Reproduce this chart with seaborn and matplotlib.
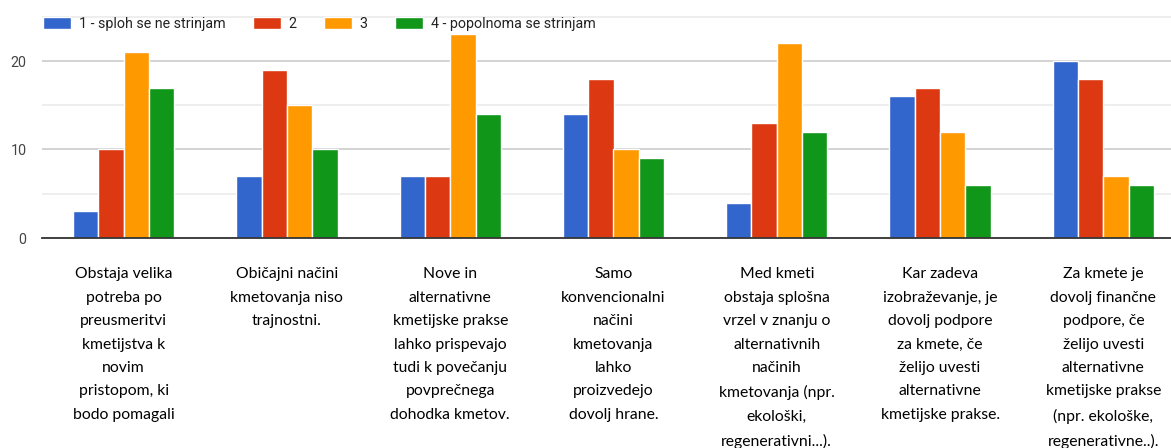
import matplotlib
matplotlib.use("Agg")
import matplotlib.pyplot as plt
import seaborn as sns
import pandas as pd
from matplotlib.ticker import MultipleLocator

categories = [
    "Obstaja velika\npotreba po\npreusmeritvi\nkmetijstva k\nnovim\npristopom, ki\nbodo pomagali",
    "Običajni načini\nkmetovanja niso\ntrajnostni.",
    "Nove in\nalternativne\nkmetijske prakse\nlahko prispevajo\ntudi k povečanju\npovprečnega\ndohodka kmetov.",
    "Samo\nkonvencionalni\nnačini\nkmetovanja\nlahko\nproizvedejo\ndovolj hrane.",
    "Med kmeti\nobstaja splošna\nvrzel v znanju o\nalternativnih\nnačinih\nkmetovanja (npr.\nekološki,\nregenerativni...).",
    "Kar zadeva\nizobraževanje, je\ndovolj podpore\nza kmete, če\nželijo uvesti\nalternativne\nkmetijske prakse.",
    "Za kmete je\ndovolj finančne\npodpore, če\nželijo uvesti\nalternativne\nkmetijske prakse\n(npr. ekološke,\nregenerativne..).",
]
series_names = ["1 - sploh se ne strinjam", "2", "3", "4 - popolnoma se strinjam"]
s1 = [3, 7, 7, 14, 4, 16, 20]
s2 = [10, 19, 7, 18, 13, 17, 18]
s3 = [21, 15, 23, 10, 22, 12, 7]
s4 = [17, 10, 14, 9, 12, 6, 6]
colors = ["#3366cc", "#dc3912", "#ff9900", "#109618"]

rows = []
for name, vals in zip(series_names, [s1, s2, s3, s4]):
    for c, v in zip(categories, vals):
        rows.append({"cat": c, "val": v, "series": name})
df = pd.DataFrame(rows)

sns.set_style("white")
fig = plt.figure(figsize=(11.71, 4.48), dpi=100)
ax = fig.add_axes([42/1171, 1 - 238/448, 1143/1171, (238-15)/448])

sns.barplot(data=df, x="cat", y="val", hue="series", palette=colors,
            width=0.62, saturation=1, edgecolor="white", linewidth=1,
            errorbar=None, ax=ax, legend=True)

ax.set_xlim(-0.5, 6.5)
ax.set_ylim(0, 223/8.85)
ax.yaxis.set_major_locator(MultipleLocator(10))
ax.yaxis.set_minor_locator(MultipleLocator(5))
ax.grid(axis="y", which="major", color="#cccccc", linewidth=1.2, zorder=0)
ax.grid(axis="y", which="minor", color="#ebebeb", linewidth=1.2, zorder=0)
ax.grid(axis="x", visible=False)
ax.set_axisbelow(True)
for sp in ["top", "right", "left"]:
    ax.spines[sp].set_visible(False)
ax.spines["bottom"].set_color("#333333")
ax.spines["bottom"].set_linewidth(1.3)
ax.set_xlabel("")
ax.set_ylabel("")
ax.tick_params(axis="y", which="both", length=0, labelsize=10.3, labelcolor="#444444", pad=11)
ax.tick_params(axis="x", length=0, pad=21)
for lbl in ax.get_xticklabels():
    lbl.set_fontfamily("Lato")
    lbl.set_fontsize(11.3)
    lbl.set_linespacing(1.86)
    lbl.set_color("#000000")
    lbl.set_verticalalignment("top")
for lbl in ax.get_yticklabels():
    lbl.set_fontfamily("Roboto")

handles, labels = ax.get_legend_handles_labels()
ax.get_legend().remove()
fig.legend(handles, labels, loc="center left", bbox_to_anchor=(43/1171, 1 - 24/448),
           ncol=4, frameon=False, handlelength=1.97, handleheight=0.95,
           handletextpad=0.56, columnspacing=1.9, borderpad=0, borderaxespad=0,
           prop={"family": "Roboto", "size": 10.25}, labelcolor="#222222")

fig.savefig("out.png", dpi=100)
